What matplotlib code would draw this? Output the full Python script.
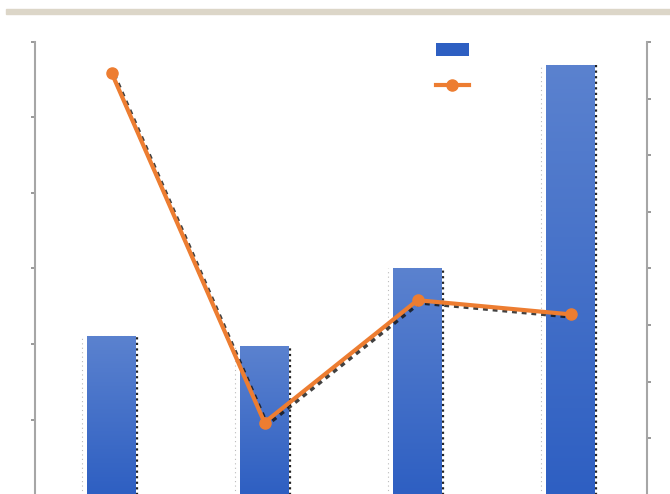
import matplotlib
matplotlib.use('Agg')
import matplotlib.pyplot as plt
import numpy as np
from matplotlib.transforms import offset_copy
from matplotlib.patches import Rectangle
from matplotlib.lines import Line2D

# values
categories = [0, 1, 2, 3]
bar_values = [2.1, 1.98, 3.0, 5.7]       # left axis, 0..6
line_values = [7.46, 1.28, 3.44, 3.19]   # right axis, 0..8

BLUE_TOP = np.array([0x5b, 0x82, 0xcf]) / 255
BLUE_BOT = np.array([0x2e, 0x5f, 0xc2]) / 255
ORANGE = "#ed7d31"
SPINE = "#a6a6a6"

fig = plt.figure(figsize=(6.7, 4.94), dpi=100)
fig.patches.append(Rectangle((6 / 670, 1 - 14 / 494), 1, 5 / 494,
                             transform=fig.transFigure, color="#dcd6c8", zorder=0))

ax = fig.add_axes([35 / 670, -1 / 494, 612 / 670, 453 / 494])
ax2 = ax.twinx()

x = np.array(categories)
w = 0.32

# gradient bars
grad = np.linspace(0, 1, 256)[:, None, None]
img = BLUE_TOP * (1 - grad) + BLUE_BOT * grad
for xi, v in zip(x, bar_values):
    rect = Rectangle((xi - w / 2, 0), w, v, facecolor="none", edgecolor="none")
    ax.add_patch(rect)
    im = ax.imshow(img, extent=(xi - w / 2, xi + w / 2, 0, v), aspect="auto",
                   origin="upper", zorder=2)
    im.set_clip_path(rect)
    # dotted shadow edges
    ax.vlines(xi + w / 2 + 0.005, 0, v, colors="#222222", linestyles=(0, (1, 1.5)),
              linewidth=1.6, zorder=1)
    ax.vlines(xi - w / 2 - 0.035, 0, v, colors="#bbbbbb", linestyles=(0, (1, 3)),
              linewidth=0.8, zorder=1)
    ax.hlines(v, xi - w / 2, xi + w / 2, colors="#dddddd", linestyles=(0, (1, 2)),
              linewidth=0.8, zorder=1)
ax.set_xlim(-0.5, 3.5)
ax.set_ylim(0, 6)
ax2.set_ylim(0, 8)

# line with dotted shadow
shadow_tr = offset_copy(ax2.transData, fig=fig, x=2, y=-2, units="dots")
ax2.plot(x, line_values, color="#111111", linestyle=(0, (1, 1)), linewidth=3.5,
         transform=shadow_tr, zorder=2, alpha=0.8)
ax2.plot(x, line_values, color=ORANGE, linewidth=3, marker="o", markersize=8,
         zorder=3)

for a in (ax, ax2):
    a.set_xticks([])
    a.spines["top"].set_visible(False)
    a.spines["bottom"].set_visible(False)
    for s in ("left", "right"):
        a.spines[s].set_color(SPINE)
        a.spines[s].set_linewidth(1.5)
    a.tick_params(axis="y", length=3, width=1.2, color="#888888", labelleft=False,
                  labelright=False)
ax.spines["right"].set_visible(False)
ax2.spines["left"].set_visible(False)
ax.set_yticks(np.arange(0, 7, 1))
ax2.set_yticks(np.arange(0, 9, 1))
ax.patch.set_visible(False)
ax.set_zorder(1)
ax2.set_zorder(2)
ax2.patch.set_visible(False)

handles = [Rectangle((0, 0), 1, 1, facecolor=BLUE_BOT, edgecolor="none"),
           Line2D([0], [0], color=ORANGE, linewidth=3, marker="o", markersize=8)]
ax2.legend(handles, ["", ""], loc="upper left", bbox_to_anchor=(388 / 612, 1.025),
           frameon=False, handlelength=2.4, handleheight=1.0, labelspacing=1.6)

fig.savefig("out.png", dpi=100)
